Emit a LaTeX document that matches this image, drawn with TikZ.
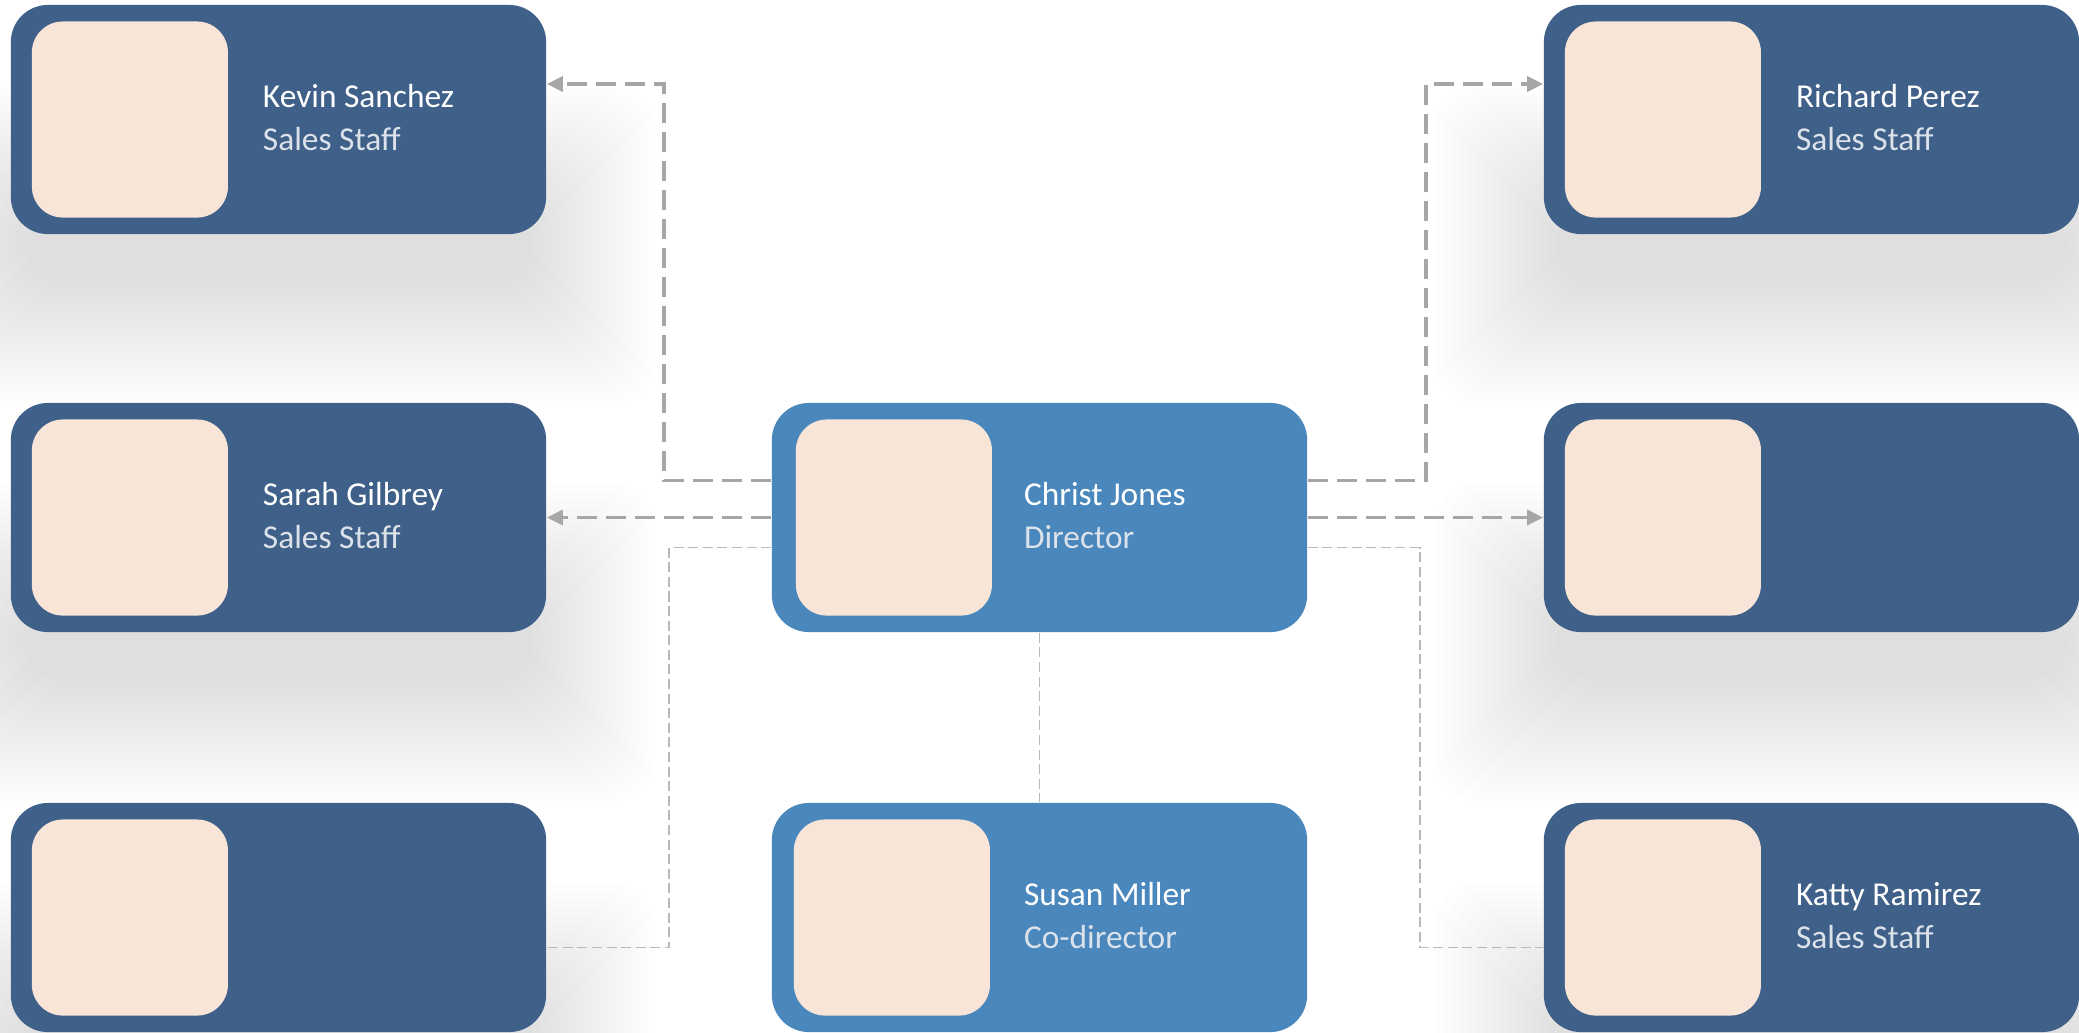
\documentclass[tikz,border=0pt]{standalone}
\usepackage{fontspec}
\setmainfont{Carlito}
\usepackage{tikz}
\usetikzlibrary{arrows.meta,positioning,calc}
\definecolor{staffblue}{HTML}{3F6089}
\definecolor{headblue}{HTML}{4A87BC}
\definecolor{photo}{HTML}{F8E5D8}
\definecolor{linkgray}{HTML}{A6A6A6}
\definecolor{thingray}{HTML}{B8B8B8}
\tikzset{
  obox/.style={fill=staffblue,rounded corners=0.37cm,minimum width=5.35cm,minimum height=2.29cm,inner sep=0pt},
  ohead/.style={obox,fill=headblue},
  ophoto/.style={fill=photo,rounded corners=0.31cm,minimum width=1.96cm,minimum height=1.96cm,inner sep=0pt},
  oname/.style={text=white,font=\fontsize{9.5}{11}\selectfont,anchor=base west,inner sep=0pt},
  orole/.style={text=white!82!staffblue,font=\fontsize{9.5}{11}\selectfont,anchor=base west,inner sep=0pt},
  oarr/.style={-{Triangle[length=1.6mm,width=1.5mm]},line width=0.95pt,draw=linkgray,dash pattern=on 5.7pt off 2.55pt},
  othin/.style={line width=0.48pt,draw=thingray,dash pattern=on 2.85pt off 1.3pt}
}

\begin{document}
\begin{tikzpicture}[x=0.01cm,y=-0.01cm]
  \useasboundingbox (0,0) rectangle (2079,1032);
  % staff cards with a soft shadow
  \foreach \nm/\x/\y in {kevin/278.5/119.5,sarah/278.5/517.5,blankl/278.5/917.5,
      richard/1811.5/119.5,blankr/1811.5/517.5,katty/1811.5/917.5}{
    \foreach \s in {1,...,16}
      \fill[black,opacity=0.009,rounded corners=0.4cm] (\x-247.5-8*\s,\y+95-8*\s) rectangle (\x+247.5+8*\s,\y+155+8*\s);
    \node[obox] (\nm) at (\x,\y) {};
    \node[ophoto,right=0.21cm of \nm.west] (\nm-pic) {};
  }
  \node[ohead] (head) at (1039.5,517.5) {};
  \node[ophoto,right=0.24cm of head.west] (head-pic) {};
  \node[ohead] (cohead) at (1039.5,917.5) {};
  \node[ophoto,right=0.22cm of cohead.west] (cohead-pic) {};
  \foreach \nm/\who/\what in {kevin/Kevin Sanchez/Sales Staff,sarah/Sarah Gilbrey/Sales Staff,
      richard/Richard Perez/Sales Staff,katty/Katty Ramirez/Sales Staff,
      head/Christ Jones/Director,cohead/Susan Miller/Co-director}{
    \node[oname] (\nm-name) at ([xshift=2.52cm,yshift=1.2mm]\nm.west) {\who};
    \node[orole] (\nm-role) at ([xshift=2.52cm,yshift=-3.1mm]\nm.west) {\what};
  }
  % links
  \draw[oarr] ([yshift=3.7mm]head.west) -- ++(-107,0) |- ([yshift=3.55mm]kevin.east);
  \draw[oarr] (head.west) -- (sarah.east);
  \draw[othin] ([yshift=-3mm]head.west) -- ++(-102,0) |- ([yshift=-3mm]blankl.east);
  \draw[oarr] ([yshift=3.7mm]head.east) -- ++(118,0) |- ([yshift=3.55mm]richard.west);
  \draw[oarr] (head.east) -- (blankr.west);
  \draw[othin] ([yshift=-3mm]head.east) -- ++(112,0) |- ([yshift=-3mm]katty.west);
  \draw[othin] (head.south) -- (cohead.north);
\end{tikzpicture}
\end{document}
